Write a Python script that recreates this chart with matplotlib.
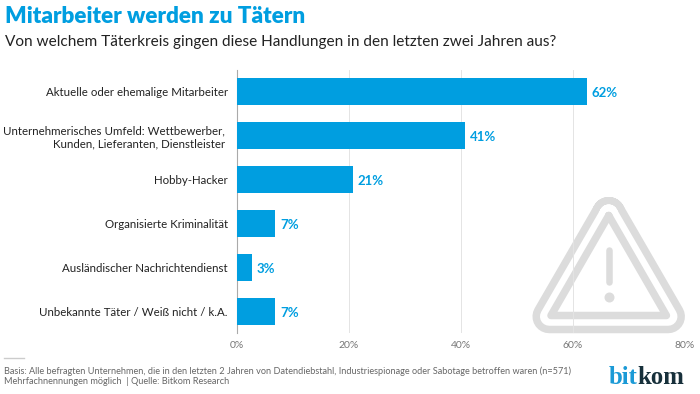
import numpy as np
import matplotlib
matplotlib.use('Agg')
import matplotlib.pyplot as plt

categories = [
    'Aktuelle oder ehemalige Mitarbeiter',
    'Unternehmerisches Umfeld: Wettbewerber, \nKunden, Lieferanten, Dienstleister ',
    'Hobby-Hacker',
    'Organisierte Kriminalität',
    'Ausländischer Nachrichtendienst',
    'Unbekannte Täter / Weiß nicht / k.A.',
]
bar_values = [62.5, 40.7, 20.7, 6.8, 2.7, 6.8]
value_labels = ['62%', '41%', '21%', '7%', '3%', '7%']
x_ticks = [0, 20, 40, 60, 80]
x_tick_labels = ['0%', '20%', '40%', '60%', '80%']

BLUE = '#009ee0'
ICON = '#dcdcdc'
FONT = 'Lato'
W, H = 700, 394
PX = 0.72  # points per pixel at dpi 100

plt.rcParams['font.family'] = FONT


def main():
    fig = plt.figure(figsize=(W / 100, H / 100), dpi=100, facecolor='white')

    # background layer in pixel coordinates: warning icon, header, footer
    bg = fig.add_axes([0, 0, 1, 1], zorder=0)
    bg.set_xlim(0, W)
    bg.set_ylim(H, 0)
    bg.axis('off')

    # outer band: thick round-joined stroke through the corner circle centres
    cx = [608.7, 549.2, 668.2, 608.7]
    cy = [213.7, 316.5, 316.5, 213.7]
    round_line = dict(solid_joinstyle='round', solid_capstyle='round')
    bg.plot(cx, cy, color=ICON, lw=33.5 * PX, zorder=2, **round_line)
    bg.fill(cx, cy, color='white', lw=0, zorder=3)
    bg.plot(cx, cy, color='white', lw=18.5 * PX, zorder=4, **round_line)
    # inner band
    ix = [608.7, 551, 666.4, 608.7]
    iy = [215.5, 315.5, 315.5, 215.5]
    bg.plot(ix, iy, color=ICON, lw=7.5 * PX, zorder=5, **round_line)
    # exclamation mark
    bg.plot([609, 609], [250, 282], color=ICON, lw=6.5 * PX, solid_capstyle='round', zorder=5)
    bg.plot([609], [297], 'o', color=ICON, ms=10 * PX, mew=0, zorder=5)

    bg.text(5, 16, 'Mitarbeiter werden zu Tätern', color=BLUE, fontsize=16.2,
            fontweight='heavy', va='center', ha='left')
    bg.text(5, 42, 'Von welchem Täterkreis gingen diese Handlungen in den letzten zwei Jahren aus?',
            color='#222222', fontsize=11.1, va='center', ha='left')

    bg.plot([4, 24], [358, 358], color='#cccccc', lw=1)
    bg.text(4, 371, 'Basis: Alle befragten Unternehmen, die in den letzten 2 Jahren von Datendiebstahl, '
            'Industriespionage oder Sabotage betroffen waren (n=571)',
            color='#666666', fontsize=6.6, va='center', ha='left')
    bg.text(4, 382, 'Mehrfachnennungen möglich  | Quelle: Bitkom Research',
            color='#666666', fontsize=6.6, va='center', ha='left')

    bit = bg.text(609, 384, 'bit', color='#1b9ad6', fontsize=17.8, fontweight='bold',
                  family='Liberation Serif', va='baseline', ha='left')
    fig.canvas.draw()
    ext = bit.get_window_extent()
    bg.text(ext.x1 - 0.5, 384, 'kom', color='#17303b', fontsize=17.8, fontweight='bold',
            family='Liberation Serif', va='baseline', ha='left')

    # chart axes: 0% at x=237, 80% at x=685, y from 70 to 333 px
    ax = fig.add_axes([237 / W, 1 - 333 / H, 448 / W, 263 / H], zorder=1)
    ax.patch.set_alpha(0)
    y = np.arange(len(categories))
    ax.barh(y, bar_values, height=0.61, color=BLUE, zorder=3)
    ax.set_xlim(0, 80)
    ax.set_ylim(5.489, -0.489)
    ax.set_yticks(y, categories, fontsize=8.3, color='#222222')
    ax.set_xticks(x_ticks, x_tick_labels, fontsize=7.5, color='#777777')
    ax.tick_params(axis='both', length=0)
    ax.tick_params(axis='y', pad=6.5)
    ax.tick_params(axis='x', pad=6)
    ax.grid(axis='x', color='#e4e4e4', lw=0.7, zorder=1)
    ax.set_axisbelow(True)
    for name in ['top', 'right', 'bottom']:
        ax.spines[name].set_visible(False)
    ax.spines['left'].set_color('#aaaaaa')
    ax.spines['left'].set_linewidth(0.8)

    for yi, v, label in zip(y, bar_values, value_labels):
        ax.annotate(label, (v, yi), xytext=(3.5, -1), textcoords='offset points',
                    color=BLUE, fontsize=9.5, fontweight='bold', va='center', ha='left')

    fig.savefig('out.png', dpi=100)


if __name__ == "__main__":
    main()
